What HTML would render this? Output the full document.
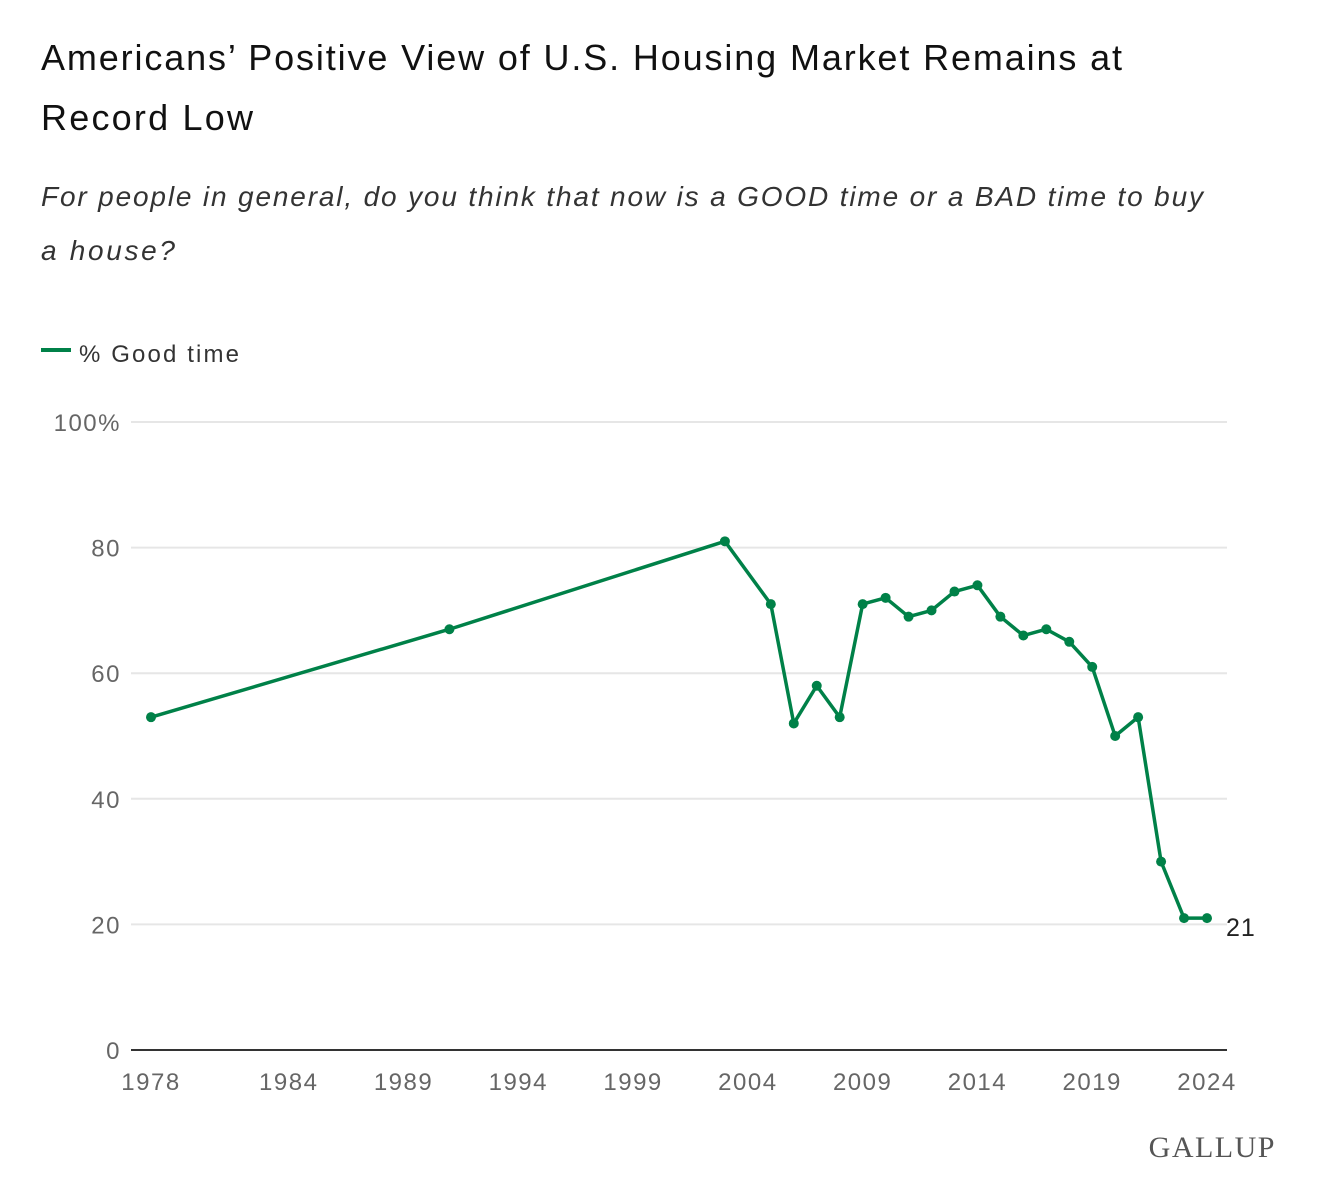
<!DOCTYPE html>
<html><head><meta charset="utf-8"><style>
body{margin:0;background:#fff;font-family:"Liberation Sans",sans-serif;}
svg{display:block}
</style></head><body>
<svg width="1320" height="1200">
<text x="41" y="70" font-size="36" fill="#111" textLength="1081" lengthAdjust="spacing">Americans’ Positive View of U.S. Housing Market Remains at</text>
<text x="41" y="130" font-size="36" fill="#111" textLength="212" lengthAdjust="spacing">Record Low</text>
<text x="41" y="206" font-size="28" font-style="italic" fill="#333" textLength="1162" lengthAdjust="spacing">For people in general, do you think that now is a GOOD time or a BAD time to buy</text>
<text x="41" y="260" font-size="28" font-style="italic" fill="#333" textLength="134" lengthAdjust="spacing">a house?</text>
<g>
<line x1="41" y1="350" x2="71" y2="350" stroke="#008148" stroke-width="4"/>
<text x="79" y="362" font-size="24" fill="#333" textLength="160" lengthAdjust="spacing">% Good time</text>
</g>
<g id="grid"></g>
<g id="yt"></g>
<g id="xt"></g>
<line x1="131" y1="1050" x2="1227" y2="1050" stroke="#333" stroke-width="2"/>
<g id="series"></g>
<text x="1276" y="1157" font-size="30" text-anchor="end" font-family="Liberation Serif,serif" fill="#555" letter-spacing="1.5">GALLUP</text>
</svg>
<script>
const years=[1978,1991,2003,2005,2006,2007,2008,2009,2010,2011,2012,2013,2014,2015,2016,2017,2018,2019,2020,2021,2022,2023,2024];
const values=[53,67,81,71,52,58,53,71,72,69,70,73,74,69,66,67,65,61,50,53,30,21,21];
const yTicks=[0,20,40,60,80,100];
const yTickLabels=["0","20","40","60","80","100%"];
const xTicks=[1978,1984,1989,1994,1999,2004,2009,2014,2019,2024];
const NS="http://www.w3.org/2000/svg";
const X=yr=>151+(yr-1978)*(1207-151)/46;
const Y=v=>1050-v*6.28;
function mk(tag,attrs,parent){const e=document.createElementNS(NS,tag);for(const k in attrs)e.setAttribute(k,attrs[k]);parent.appendChild(e);return e;}
const grid=document.getElementById('grid'),yt=document.getElementById('yt'),xt=document.getElementById('xt'),s=document.getElementById('series');
yTicks.forEach((v,i)=>{
 if(v>0){const l=mk('line',{x1:131,x2:1227,y1:Y(v),y2:Y(v),stroke:'#e6e6e6','stroke-width':2},grid);
 
 }
 const t=mk('text',{x:121,y:Y(v)+9,'font-size':24,'text-anchor':'end',fill:'#666','letter-spacing':1.5},yt);t.textContent=yTickLabels[i];
 
 
});
xTicks.forEach(yr=>{
 const t=mk('text',{x:X(yr),y:1090,'font-size':24,'text-anchor':'middle',fill:'#666','letter-spacing':1.5},xt);t.textContent=yr;
 
 
});
const p=mk('polyline',{points:years.map((y,i)=>X(y)+','+Y(values[i])).join(' '),fill:'none',stroke:'#008148','stroke-width':3.5,'stroke-linejoin':'round'},s);


years.forEach((y,i)=>{
 const c=mk('circle',{cx:X(y),cy:Y(values[i]),r:5,fill:'#008148'},s);
 
 
});
const n=years.length-1;
const lab=mk('text',{x:X(years[n])+19,y:Y(values[n])+18,'font-size':25,fill:'#222','letter-spacing':1},s);lab.textContent=values[n];


</script>
</body></html>
